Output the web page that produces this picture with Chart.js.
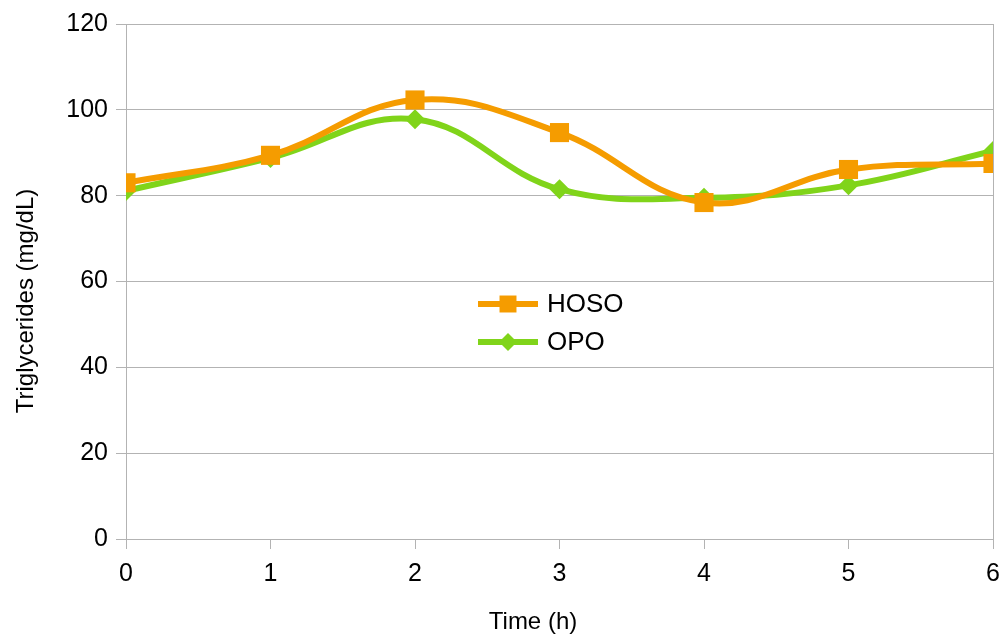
<!DOCTYPE html>
<html>
<head>
<meta charset="utf-8">
<script src="https://cdn.jsdelivr.net/npm/chart.js@4.4.1/dist/chart.umd.min.js"></script>
<style>
  html, body { margin: 0; padding: 0; background: #fff; }
  #wrap { width: 1002px; height: 635px; }
</style>
</head>
<body>
<div id="wrap"><canvas id="myChart" width="1002" height="635"></canvas></div>
<script>
// hours after the meal
var timeHours = [0, 1, 2, 3, 4, 5, 6];
var hosoValues = [83.0, 89.4, 102.3, 94.7, 78.4, 86.1, 87.5];
var opoValues = [81.1, 88.8, 97.8, 81.5, 79.5, 82.4, 90.4];
var yTicks = [0, 20, 40, 60, 80, 100, 120];

var gridGrey = '#b3b3b3';
var fontName = '"Liberation Sans", Arial, sans-serif';

function toPoints(values) {
    return timeHours.map(function (t, i) { return { x: t, y: values[i] }; });
}

// legend sits in the middle of the plot, line + marker like the original
var innerLegend = {
    id: 'innerLegend',
    afterDraw: function (chart) {
        var ctx = chart.ctx;
        var rows = chart.data.datasets;
        ctx.save();
        ctx.font = '26px ' + fontName;
        ctx.textBaseline = 'middle';
        ctx.textAlign = 'left';
        rows.forEach(function (ds, i) {
            var y = 304 + i * 38;
            ctx.strokeStyle = ds.borderColor;
            ctx.lineWidth = 6;
            ctx.beginPath();
            ctx.moveTo(478, y);
            ctx.lineTo(538, y);
            ctx.stroke();
            ctx.fillStyle = ds.borderColor;
            Chart.helpers.drawPoint(ctx, {
                pointStyle: ds.pointStyle,
                radius: ds.pointStyle === 'rect' ? 12 : 9,
                rotation: 0,
                borderWidth: 0
            }, 508, y);
            ctx.fillStyle = '#000';
            ctx.fillText(ds.label, 547, y + 1);
        });
        ctx.restore();
    }
};

var axisTitles = {
    id: 'axisTitles',
    afterDraw: function (chart) {
        var ctx = chart.ctx;
        ctx.save();
        ctx.fillStyle = '#000';
        ctx.font = '24px ' + fontName;
        ctx.textAlign = 'center';
        ctx.textBaseline = 'middle';
        ctx.fillText('Time (h)', 533, 622);
        ctx.translate(26, 301);
        ctx.rotate(-Math.PI / 2);
        ctx.fillText('Triglycerides (mg/dL)', 0, 0);
        ctx.restore();
    }
};

var ctx = document.getElementById('myChart').getContext('2d');
var myChart = new Chart(ctx, {
    type: 'line',
    data: {
        datasets: [{
            label: 'HOSO',
            data: toPoints(hosoValues),
            borderColor: '#f59c00',
            backgroundColor: '#f59c00',
            borderWidth: 6,
            pointStyle: 'rect',
            pointRadius: 13.5,
            pointBorderWidth: 0,
            tension: 0.4,
            fill: false
        }, {
            label: 'OPO',
            data: toPoints(opoValues),
            borderColor: '#80d41a',
            backgroundColor: '#80d41a',
            borderWidth: 6,
            pointStyle: 'rectRot',
            pointRadius: 10,
            pointBorderWidth: 0,
            tension: 0.4,
            fill: false
        }]
    },
    options: {
        responsive: false,
        animation: false,
        layout: { autoPadding: false, padding: { top: 24, right: 9, left: 0, bottom: 0 } },
        plugins: {
            legend: { display: false },
            tooltip: { enabled: false }
        },
        scales: {
            x: {
                type: 'linear',
                min: 0,
                max: 6,
                afterFit: function (scale) {
                    scale.height = 96;
                    scale.paddingLeft = 0;
                    scale.paddingRight = 0;
                },
                grid: {
                    color: function (c) {
                        return (c.tick && (c.tick.value === 0 || c.tick.value === 6)) ? gridGrey : 'rgba(0,0,0,0)';
                    },
                    tickColor: gridGrey,
                    tickLength: 10,
                    lineWidth: 1
                },
                border: { color: gridGrey },
                ticks: {
                    stepSize: 1,
                    color: '#000',
                    font: { family: fontName, size: 25 },
                    padding: 10
                }
            },
            y: {
                min: 0,
                max: 120,
                afterBuildTicks: function (scale) {
                    scale.ticks = yTicks.map(function (v) { return { value: v }; });
                },
                afterFit: function (scale) { scale.width = 126; },
                grid: {
                    color: gridGrey,
                    tickColor: gridGrey,
                    tickLength: 10,
                    lineWidth: 1
                },
                border: { color: gridGrey },
                ticks: {
                    color: '#000',
                    font: { family: fontName, size: 25 },
                    padding: 8
                }
            }
        }
    },
    plugins: [innerLegend, axisTitles]
});
</script>
</body>
</html>
